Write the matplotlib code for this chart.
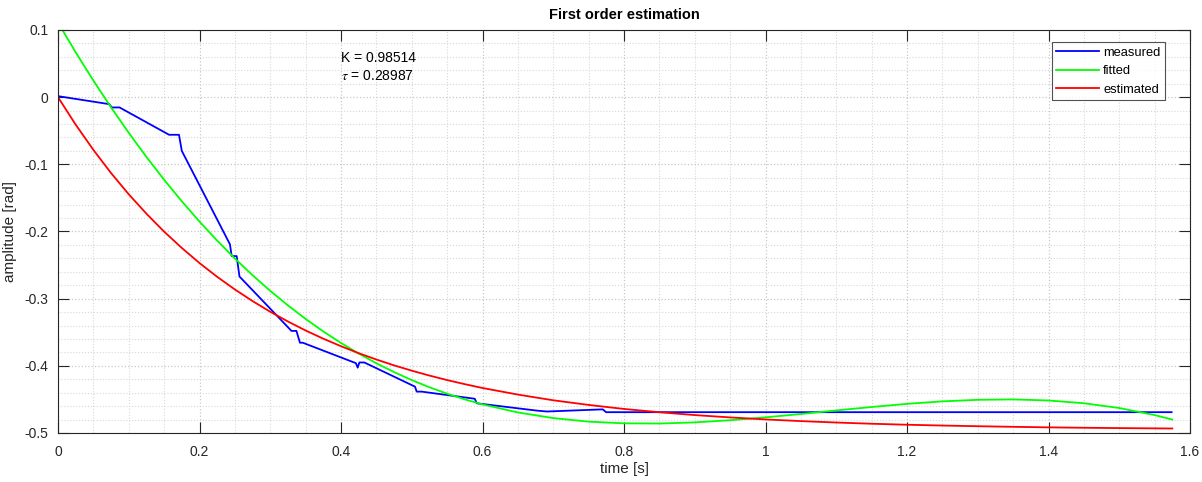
import numpy as np
import matplotlib
matplotlib.use("Agg")
import matplotlib.pyplot as plt
from matplotlib.ticker import MultipleLocator, FuncFormatter

plt.rcParams['font.family'] = ['Liberation Sans', 'DejaVu Sans']
plt.rcParams['axes.unicode_minus'] = False
plt.rcParams['mathtext.fontset'] = 'stix'

t_meas = [0, 0.0725, 0.076, 0.087, 0.157, 0.171, 0.175, 0.243, 0.2455, 0.2525,
          0.2565, 0.330, 0.337, 0.342, 0.346, 0.421, 0.4236, 0.426, 0.433,
          0.5046, 0.507, 0.514, 0.589, 0.592, 0.677, 0.691, 0.770, 0.7746, 1.574]
y_meas = [0.0015, -0.0104, -0.0153, -0.0153, -0.056, -0.056, -0.080, -0.219,
          -0.2366, -0.2366, -0.267, -0.348, -0.348, -0.3656, -0.3656, -0.396,
          -0.4027, -0.395, -0.395, -0.431, -0.4384, -0.4384, -0.449, -0.4558,
          -0.4667, -0.468, -0.4648, -0.469, -0.469]

# fitted and estimated curves
t_curve = [0, 0.025, 0.05, 0.075, 0.10, 0.125, 0.15, 0.175, 0.20, 0.225, 0.25,
           0.275, 0.30, 0.325, 0.35, 0.375, 0.40, 0.425, 0.45, 0.475, 0.50,
           0.525, 0.55, 0.575, 0.60, 0.65, 0.70, 0.75, 0.80, 0.85, 0.90, 0.95,
           1.00, 1.05, 1.10, 1.15, 1.20, 1.25, 1.30, 1.35, 1.40, 1.45, 1.50,
           1.55, 1.575]
y_fit = [0.111, 0.0668, 0.0247, -0.0152, -0.0531, -0.0890, -0.1230, -0.1550,
         -0.1852, -0.2136, -0.2402, -0.2651, -0.2884, -0.3100, -0.3302, -0.3488,
         -0.3660, -0.3817, -0.3962, -0.4093, -0.4212, -0.4319, -0.4415, -0.4500,
         -0.4574, -0.4694, -0.4778, -0.4831, -0.4856, -0.4859, -0.4842, -0.4810,
         -0.4767, -0.4717, -0.4664, -0.4613, -0.4566, -0.4529, -0.4506, -0.4500,
         -0.4516, -0.4557, -0.4628, -0.4733, -0.4800]
y_est = [0, -0.0409, -0.0785, -0.1130, -0.1446, -0.1735, -0.2002, -0.2245,
         -0.2470, -0.2675, -0.2863, -0.3036, -0.3195, -0.3340, -0.3474, -0.3596,
         -0.3708, -0.3812, -0.3906, -0.3993, -0.4072, -0.4145, -0.4212, -0.4273,
         -0.4330, -0.4428, -0.4513, -0.4582, -0.4642, -0.4691, -0.4733, -0.4768,
         -0.4798, -0.4823, -0.4844, -0.4862, -0.4877, -0.4889, -0.4899, -0.4908,
         -0.4916, -0.4922, -0.4927, -0.4931, -0.4933]

K = 0.98514
tau = 0.28987

W, H = 1202, 482
fig = plt.figure(figsize=(W / 100, H / 100), dpi=100)
ax = fig.add_axes([58/W, 1-433/H, (1190-58)/W, (433-30)/H])

ax.plot(t_meas, y_meas, color=(0, 0, 1), lw=1.3, label='measured')
ax.plot(t_curve, y_fit, color=(0, 1, 0), lw=1.3, label='fitted')
ax.plot(t_curve, y_est, color=(1, 0, 0), lw=1.3, label='estimated')

ax.set_xlim(0, 1.6)
ax.set_ylim(-0.5, 0.1)
ax.xaxis.set_major_locator(MultipleLocator(0.2))
ax.xaxis.set_minor_locator(MultipleLocator(0.05))
ax.yaxis.set_major_locator(MultipleLocator(0.1))
ax.yaxis.set_minor_locator(MultipleLocator(0.02))
fmt = FuncFormatter(lambda v, p: '%g' % round(v, 3))
ax.xaxis.set_major_formatter(fmt)
ax.yaxis.set_major_formatter(fmt)

ax.grid(which='major', color='#c8c8c8', linestyle=':', lw=0.9)
ax.grid(which='minor', color='#d8d8d8', linestyle=':', lw=0.8)
ax.set_axisbelow(True)

ax.tick_params(which='major', direction='in', length=8, width=0.8, top=True,
               right=True, colors='#262626', labelsize=10)
ax.tick_params(axis='x', which='major', pad=9)
ax.tick_params(axis='y', which='major', pad=7)
ax.tick_params(which='minor', length=0, top=True, right=True)
for s in ax.spines.values():
    s.set_color('#262626')
    s.set_linewidth(0.8)

ax.set_title('First order estimation', fontsize=10.5, fontweight='bold', pad=8)
ax.set_xlabel('time [s]', fontsize=11, color='#262626', labelpad=2)
ax.set_ylabel('amplitude [rad]', fontsize=11, color='#262626', labelpad=5)

ax.text(0.4, 0.069, 'K = %.5f\n$\\tau$ = %.5f' % (K, tau), fontsize=10,
        va='top', ha='left', linespacing=1.35)

leg = ax.legend(loc='upper right', bbox_to_anchor=(1165/W, 1-42/H),
                bbox_transform=fig.transFigure, fontsize=9.3, frameon=True,
                fancybox=False, edgecolor='#262626', handlelength=3.3,
                handletextpad=0.35, borderaxespad=0, labelspacing=0.5,
                borderpad=0.35)
leg.get_frame().set_linewidth(0.8)

fig.savefig('out.png', dpi=100)
